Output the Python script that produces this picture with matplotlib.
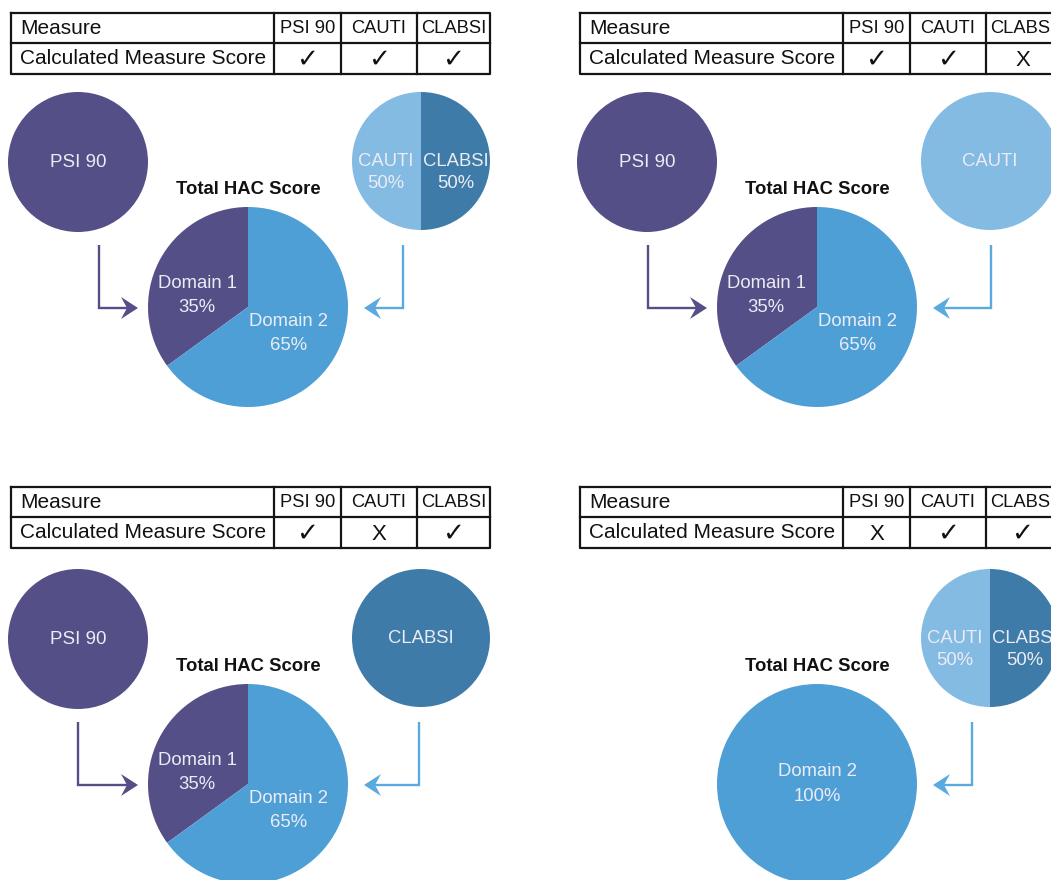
import matplotlib
matplotlib.use("Agg")
import matplotlib.pyplot as plt
from matplotlib.patches import Polygon
import numpy as np

# ---------------- data ----------------
measures = ["PSI 90", "CAUTI", "CLABSI"]
row_labels = ["Measure", "Calculated Measure Score"]
# availability of a calculated score per scenario (1 = ✓, 0 = X)
availability = [[1, 1, 1], [1, 1, 0], [1, 0, 1], [0, 1, 1]]
domain_names = ["Domain 1", "Domain 2"]
domain_weights = [[35, 65], [35, 65], [35, 65], [0, 100]]
domain2_measures = ["CAUTI", "CLABSI"]
domain2_weights = [[50, 50], [100, 0], [0, 100], [50, 50]]
title_text = "Total HAC Score"

# ---------------- style ----------------
W, H = 1051, 880
PURPLE = "#544f87"
BLUE = "#4f9fd7"
CAUTI_C = "#83bbe3"
CLABSI_C = "#3e7ba8"
ARROW_BLUE = "#5aa9df"
LABEL_C = "#ececf4"
FONT = ["Liberation Sans", "DejaVu Sans"]

fig = plt.figure(figsize=(W / 100, H / 100), dpi=100)
ax = fig.add_axes([0, 0, 1, 1])


def Y(y):
    return H - y


# per-panel layout (pixel offsets / arrow positions)
panels = [
    dict(ox=0, oy_t=0, oy=0, la=99, ra=403),
    dict(ox=569, oy_t=0, oy=0, la=79, ra=422),
    dict(ox=0, oy_t=474, oy=477, la=78, ra=419),
    dict(ox=569, oy_t=474, oy=477, la=78, ra=403),
]

tx0, tx1, ty0, tmid, ty1 = 11, 490, 13, 43, 74
col_x = [274, 341, 417, 490]
LW = 1.6


def draw_table(ox, oy, avail):
    kw = dict(color="#151515", lw=LW, solid_capstyle="projecting")
    ax.plot([ox + tx0, ox + tx1, ox + tx1, ox + tx0, ox + tx0],
            [Y(oy + ty0), Y(oy + ty0), Y(oy + ty1), Y(oy + ty1), Y(oy + ty0)], **kw)
    ax.plot([ox + tx0, ox + tx1], [Y(oy + tmid)] * 2, **kw)
    for cx in col_x[:-1]:
        ax.plot([ox + cx, ox + cx], [Y(oy + ty0), Y(oy + ty1)], **kw)
    ax.text(ox + 20, Y(oy + (ty0 + tmid) / 2 + 0.5), row_labels[0], ha="left", va="center",
            fontsize=15, family=FONT, color="#111")
    ax.text(ox + 20, Y(oy + (tmid + ty1) / 2), row_labels[1], ha="left", va="center",
            fontsize=15, family=FONT, color="#111")
    for i, m in enumerate(measures):
        cx = ox + (col_x[i] + col_x[i + 1]) / 2
        ax.text(cx, Y(oy + (ty0 + tmid) / 2 + 0.5), m, ha="center", va="center",
                fontsize=13.2, family=FONT, color="#111")
        if avail[i]:
            ax.text(cx, Y(oy + (tmid + ty1) / 2 + 1.5), "\u2713", ha="center", va="center",
                    fontsize=19, family=["DejaVu Sans"], color="#111")
        else:
            ax.text(cx, Y(oy + (tmid + ty1) / 2 + 1.5), "X", ha="center", va="center",
                    fontsize=16, family=FONT, color="#111")


def draw_pie(cx, cy, r, values, colors, names, show_pct, fracs, nudges, fs, ls):
    vals = [v for v in values if v > 0]
    cols = [c for v, c in zip(values, colors) if v > 0]
    nms = [n for v, n in zip(values, names) if v > 0]
    ax.pie(vals, colors=cols, center=(cx, Y(cy)), radius=r, startangle=90,
           counterclock=True, frame=True, wedgeprops=dict(linewidth=0))
    total = sum(vals)
    if len(vals) == 1:
        lab = f"{nms[0]}\n{vals[0]}%" if show_pct else nms[0]
        ax.text(cx, Y(cy), lab, ha="center", va="center", fontsize=fs,
                family=FONT, color=LABEL_C, linespacing=ls)
        return
    start = 90.0
    for j, (v, n) in enumerate(zip(vals, nms)):
        span = 360.0 * v / total
        mid = np.deg2rad(start + span / 2)
        lx = cx + fracs[j] * r * np.cos(mid)
        ly = cy - fracs[j] * r * np.sin(mid) + nudges[j]
        ax.text(lx, Y(ly), f"{n}\n{v}%", ha="center", va="center", fontsize=fs,
                family=FONT, color=LABEL_C, linespacing=ls)
        start += span


def draw_arrow(x, ytop, ybend, xtip, color):
    d = 1 if xtip > x else -1
    hl, hw, notch = 17, 11, 11
    ax.plot([x, x, xtip - d * notch], [Y(ytop), Y(ybend), Y(ybend)], color=color,
            lw=1.7, solid_joinstyle="miter", solid_capstyle="butt")
    pts = [(xtip, Y(ybend)), (xtip - d * hl, Y(ybend - hw)),
           (xtip - d * notch, Y(ybend)), (xtip - d * hl, Y(ybend + hw))]
    ax.add_patch(Polygon(pts, closed=True, color=color, lw=0))


for k, p in enumerate(panels):
    ox, oyt, oy = p["ox"], p["oy_t"], p["oy"]
    draw_table(ox, oyt, availability[k])
    has_psi = availability[k][0] == 1
    # PSI 90 circle
    if has_psi:
        draw_pie(ox + 78, oy + 162, 70, [100], [PURPLE], ["PSI 90"], False,
                 None, None, 13.5, 1.4)
        draw_arrow(ox + p["la"], oy + 245, oy + 308, ox + 138, PURPLE)
    # Domain 2 measure circle
    draw_pie(ox + 421, oy + 161, 69, domain2_weights[k], [CAUTI_C, CLABSI_C],
             domain2_measures, False, [0.51, 0.51], [11.5, 11.5], 13.3, 1.35)
    draw_arrow(ox + p["ra"], oy + 245, oy + 308, ox + 364, ARROW_BLUE)
    # Total HAC score pie
    ax.text(ox + 248, Y(oy + 189), title_text, ha="center", va="center",
            fontsize=13.3, fontweight="bold", family=FONT, color="#111")
    draw_pie(ox + 248, oy + 307, 100, domain_weights[k], [PURPLE, BLUE],
             domain_names, True, [0.57, 0.45], [14, 6], 13.3, 1.55)

ax.set_xlim(0, W)
ax.set_ylim(0, H)
ax.set_aspect("auto")
ax.set_axis_off()
fig.savefig("out.png", dpi=100)
